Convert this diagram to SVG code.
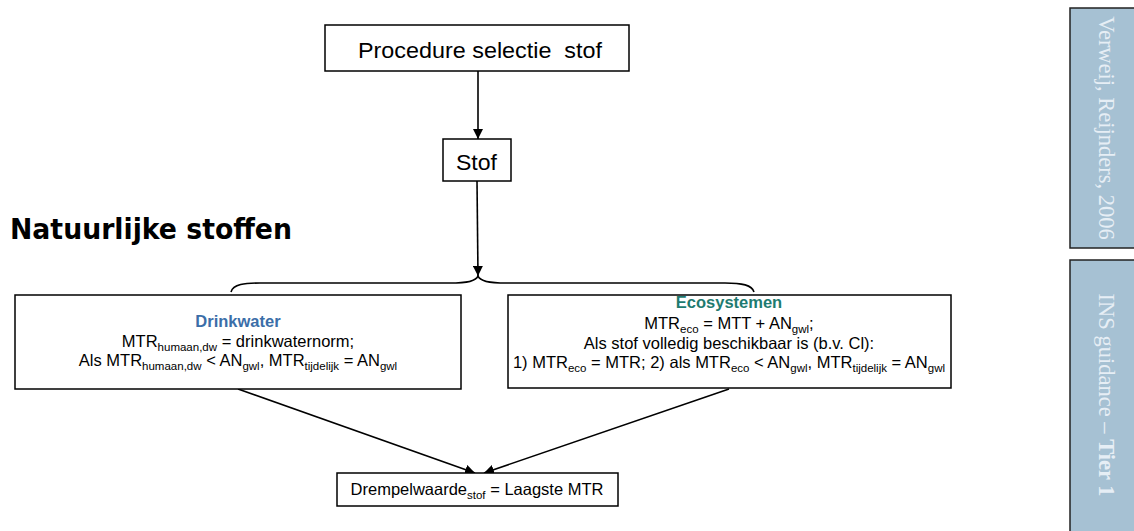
<svg xmlns="http://www.w3.org/2000/svg" width="1134" height="531" viewBox="0 0 1134 531">
<defs>
<style>
.box{fill:#fff;stroke:#000;stroke-width:1.5}
.t{font-family:"Liberation Sans",Arial,sans-serif;fill:#000;text-anchor:middle}
.sub{font-size:11.5px}
.ln{fill:none;stroke:#000;stroke-width:1.6}
.side{fill:#a6c1d3;stroke:#222;stroke-width:1.5}
.st{font-family:"Liberation Serif","Times New Roman",serif;font-size:22.5px;fill:#e6eef5;text-anchor:middle}
</style>
<marker id="ah2" viewBox="0 0 10 10" refX="10" refY="5" markerWidth="10" markerHeight="10" orient="auto" markerUnits="userSpaceOnUse">
<path d="M0,0 L10,5 L0,10 z" fill="#000"/>
</marker>
</defs>
<rect width="1134" height="531" fill="#fff"/>

<g id="side-panels">
<rect class="side" x="1070" y="8" width="70" height="240"/>
<text class="st" transform="translate(1099,128) rotate(90)">Verweij, Reijnders, 2006</text>
<rect class="side" x="1070" y="260" width="70" height="278"/>
<text class="st" transform="translate(1099,395) rotate(90)">INS guidance – <tspan font-weight="bold">Tier 1</tspan></text>
</g>

<g id="title">
<text x="10" y="239" font-family="'DejaVu Sans',sans-serif" font-weight="bold" font-size="28" textLength="282" lengthAdjust="spacingAndGlyphs" fill="#000">Natuurlijke stoffen</text>
</g>

<g id="connectors">
<line class="ln" x1="478" y1="71" x2="478" y2="139" marker-end="url(#ah2)"/>
<line class="ln" x1="477" y1="181" x2="478" y2="276" marker-end="url(#ah2)"/>
<path class="ln" d="M231,292 C233,284 245,283 260,283 L450,283 C468,283 476,281 478,276 C480,281 488,283 506,283 L725,283 C742,283 752,285 754,292"/>
<line class="ln" x1="238" y1="389" x2="475" y2="473" marker-end="url(#ah2)"/>
<line class="ln" x1="729" y1="389" x2="484" y2="473" marker-end="url(#ah2)"/>
</g>

<g id="node-procedure">
<rect class="box" x="325" y="25" width="304" height="46"/>
<text class="t" x="480" y="58" font-size="21.5" textLength="244" lengthAdjust="spacingAndGlyphs">Procedure selectie&#160; stof</text>
</g>

<g id="node-stof">
<rect class="box" x="443" y="139" width="68" height="42"/>
<text class="t" x="476.5" y="170" font-size="21.5" textLength="41" lengthAdjust="spacingAndGlyphs">Stof</text>
</g>

<g id="node-drinkwater">
<rect class="box" x="15" y="295" width="446" height="94"/>
<text class="t" x="238" y="327" font-size="16.5" font-weight="bold" style="fill:#3b6ea8">Drinkwater</text>
<text class="t" x="238" y="347" font-size="16.5">MTR<tspan class="sub" dy="4">humaan,dw</tspan><tspan dy="-4"> = drinkwaternorm;</tspan></text>
<text class="t" x="238" y="366" font-size="16.5">Als MTR<tspan class="sub" dy="4">humaan,dw</tspan><tspan dy="-4"> &lt; AN</tspan><tspan class="sub" dy="4">gwl</tspan><tspan dy="-4">, MTR</tspan><tspan class="sub" dy="4">tijdelijk</tspan><tspan dy="-4"> = AN</tspan><tspan class="sub" dy="4">gwl</tspan></text>
</g>

<g id="node-ecosystemen">
<rect class="box" x="508" y="295" width="443" height="93"/>
<text class="t" x="729" y="308" font-size="16.5" font-weight="bold" style="fill:#1e7b70">Ecosystemen</text>
<text class="t" x="729" y="329" font-size="16.5">MTR<tspan class="sub" dy="4">eco</tspan><tspan dy="-4"> = MTT + AN</tspan><tspan class="sub" dy="4">gwl</tspan><tspan dy="-4">;</tspan></text>
<text class="t" x="729" y="349" font-size="16.5">Als stof volledig beschikbaar is (b.v. Cl):</text>
<text class="t" x="729" y="368" font-size="16.5">1) MTR<tspan class="sub" dy="4">eco</tspan><tspan dy="-4"> = MTR; 2) als MTR</tspan><tspan class="sub" dy="4">eco</tspan><tspan dy="-4"> &lt; AN</tspan><tspan class="sub" dy="4">gwl</tspan><tspan dy="-4">, MTR</tspan><tspan class="sub" dy="4">tijdelijk</tspan><tspan dy="-4"> = AN</tspan><tspan class="sub" dy="4">gwl</tspan></text>
</g>

<g id="node-drempelwaarde">
<rect class="box" x="337" y="473" width="281" height="33"/>
<text class="t" x="477" y="495" font-size="16.5">Drempelwaarde<tspan class="sub" dy="4">stof</tspan><tspan dy="-4"> = Laagste MTR</tspan></text>
</g>
</svg>
